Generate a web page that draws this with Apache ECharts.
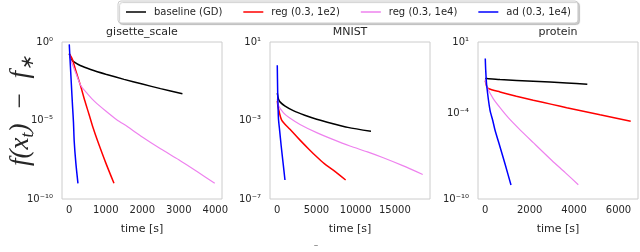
<!DOCTYPE html>
<html><head><meta charset="utf-8">
<script src="https://cdn.jsdelivr.net/npm/echarts@6/dist/echarts.min.js"></script>
<style>html,body{margin:0;padding:0;background:#fff}#c{width:640px;height:252px}</style>
</head><body><div id="c"></div>
<script>
// ---------- data ----------
const seriesNames = ['baseline (GD)', 'reg (0.3, 1e2)', 'reg (0.3, 1e4)', 'ad (0.3, 1e4)'];
const panelTitles = ['gisette_scale', 'MNIST', 'protein'];
const xTickLabels = [[0, 1000, 2000, 3000, 4000], [0, 5000, 10000, 15000], [0, 2000, 4000, 6000]];
const yTickExps = [[0, -5, -10], [1, -3, -7], [1, -4, -10]];
const yRanges = [[1e-10, 1], [1e-7, 10], [1e-10, 10]];
const xRanges = [[-199, 4184], [-928, 19478], [-328, 6878]];

// gisette_scale
const gisBaseT = [0, 50, 130, 300, 585, 1000, 1500, 2000, 2500, 3100];
const gisBaseF = [0.182, 0.0794, 0.0537, 0.0316, 0.0178, 0.0089, 0.00417, 0.00209, 0.00107, 0.000513];
const gisReg2T = [0, 85, 175, 312, 420, 540, 650, 770, 1000, 1225];
const gisReg2F = [0.178, 0.0794, 0.0158, 1.58e-3, 2.0e-4, 2.51e-5, 3.55e-6, 5.5e-7, 2.0e-8, 1.0e-9];
const gisReg4T = [0, 40, 175, 312, 500, 700, 1000, 1300, 1600, 2000, 2500, 3000, 3500, 3985];
const gisReg4F = [0.158, 0.0708, 0.0112, 1.78e-3, 5.0e-4, 1.58e-4, 3.98e-5, 1.12e-5, 3.98e-6, 8.9e-7, 1.58e-7, 3.16e-8, 5.6e-9, 1.0e-9];
const gisAdT = [0, 30, 60, 90, 115, 135, 180, 238];
const gisAdF = [0.708, 0.0316, 1.58e-3, 7.9e-5, 7.9e-6, 5.0e-7, 2.0e-8, 1.0e-9];

// MNIST
const mnBaseT = [0, 150, 345, 1000, 2040, 3500, 5025, 7000, 9000, 11950];
const mnBaseF = [0.0251, 0.0126, 8.9e-3, 5.37e-3, 3.16e-3, 1.86e-3, 1.17e-3, 7.1e-4, 4.47e-4, 2.82e-4];
const mnReg2T = [0, 100, 560, 1620, 2900, 4000, 5025, 6000, 7140, 8720];
const mnReg2F = [0.01, 5.0e-3, 1.05e-3, 3.55e-4, 1.0e-4, 3.55e-5, 1.41e-5, 6.3e-6, 2.95e-6, 9.3e-7];
const mnReg4T = [0, 100, 765, 1500, 2900, 5025, 7000, 9270, 11500, 13520, 16000, 18550];
const mnReg4F = [0.0126, 6.3e-3, 2.51e-3, 1.41e-3, 6.3e-4, 2.4e-4, 1.12e-4, 5.0e-5, 2.51e-5, 1.26e-5, 5.0e-6, 1.78e-6];
const mnAdT = [0, 50, 150, 300, 500, 750, 980];
const mnAdF = [0.646, 0.0316, 1.26e-3, 3.16e-4, 5.0e-5, 6.3e-6, 9.3e-7];

// protein
const prBaseT = [0, 60, 662, 2162, 3667, 4595];
const prBaseF = [0.0282, 0.0275, 0.0234, 0.0178, 0.0135, 0.011];
const prReg2T = [0, 60, 135, 662, 1400, 2162, 3000, 3667, 5167, 6550];
const prReg2F = [0.02, 7.9e-3, 5.5e-3, 3.16e-3, 1.58e-3, 8.3e-4, 4.27e-4, 2.51e-4, 7.9e-5, 2.82e-5];
const prReg4T = [0, 63, 350, 662, 1036, 1500, 2162, 3000, 3600, 4189];
const prReg4F = [0.0251, 7.9e-3, 1.12e-3, 2.51e-4, 5.0e-5, 8.9e-6, 8.9e-7, 5.0e-8, 7.1e-9, 1.0e-9];
const prAdT = [0, 20, 63, 212, 333, 437, 662, 900, 1158];
const prAdF = [0.692, 0.1, 9.3e-3, 1.66e-4, 3.31e-5, 6.8e-6, 4.57e-7, 2.51e-8, 9.5e-10];

// ---------- build ----------
const panels = [
  [[gisBaseT, gisBaseF], [gisReg2T, gisReg2F], [gisReg4T, gisReg4F], [gisAdT, gisAdF]],
  [[mnBaseT, mnBaseF], [mnReg2T, mnReg2F], [mnReg4T, mnReg4F], [mnAdT, mnAdF]],
  [[prBaseT, prBaseF], [prReg2T, prReg2F], [prReg4T, prReg4F], [prAdT, prAdF]]
];
const colors = ['#000000', '#ff0000', '#ee82ee', '#0000ff'];
const widths = [1.5, 1.5, 1.2, 1.5];
const gridLefts = [62, 270, 478];
const gridW = 160, gridTop = 42, gridH = 157;
const txt = '#262626';
const font = 'DejaVu Sans';
const sup = {'0':'⁰','1':'¹','2':'²','3':'³','4':'⁴','5':'⁵','6':'⁶','7':'⁷','8':'⁸','9':'⁹','-':'⁻'};
function supStr(n){ return String(n).split('').map(c => sup[c]).join(''); }

const grid = [], xAxis = [], yAxis = [], series = [], title = [];
panels.forEach((p, i) => {
  grid.push({left: gridLefts[i], top: gridTop, width: gridW, height: gridH, show: true,
    borderColor: '#cccccc', borderWidth: 1, backgroundColor: '#fff', containLabel: false});
  title.push({text: panelTitles[i], left: gridLefts[i] + gridW / 2, top: 27, textAlign: 'center',
    textStyle: {fontSize: 11, fontWeight: 'normal', color: txt, fontFamily: font}, padding: 0});
  xAxis.push({type: 'value', gridIndex: i, min: xRanges[i][0], max: xRanges[i][1],
    name: 'time [s]', nameLocation: 'middle', nameGap: 25,
    nameTextStyle: {fontSize: 11, color: txt, fontFamily: font},
    axisLine: {show: false}, axisTick: {show: false}, splitLine: {show: false},
    axisLabel: {customValues: xTickLabels[i], fontSize: 10, color: txt, fontFamily: font, margin: 6,
      formatter: v => String(Math.round(v))}
  });
  const exps = yTickExps[i];
  yAxis.push({type: 'log', logBase: 10, gridIndex: i, min: yRanges[i][0], max: yRanges[i][1],
    interval: 1,
    axisLine: {show: false}, axisTick: {show: false}, splitLine: {show: false}, minorSplitLine: {show: false},
    axisLabel: {fontSize: 10, color: txt, fontFamily: font, margin: 9, showMinLabel: true, showMaxLabel: true,
      formatter: v => { const e = Math.round(Math.log10(v)); return exps.indexOf(e) >= 0 ? '10' + supStr(e) : ''; }}
  });
  p.forEach((s, k) => {
    series.push({type: 'line', name: seriesNames[k], xAxisIndex: i, yAxisIndex: i,
      data: s[0].map((t, j) => [t, s[1][j]]), showSymbol: false, symbol: 'none',
      smooth: 0.25,
      lineStyle: {color: colors[k], width: widths[k]}, itemStyle: {color: colors[k]}, z: 2 + k});
  });
});

const chart = echarts.init(document.getElementById('c'), null, {renderer: 'canvas'});
chart.setOption({
  animation: false,
  backgroundColor: '#ffffff',
  title: title,
  legend: {data: seriesNames, left: 118, top: 1, icon: 'rect', itemWidth: 20, itemHeight: 1.5, itemGap: 21,
    padding: [6, 7, 6, 8], borderColor: '#cccccc', borderWidth: 1, borderRadius: 3, backgroundColor: '#ffffff',
    shadowColor: 'rgba(0,0,0,0.2)', shadowOffsetX: 1.5, shadowOffsetY: 1.5, shadowBlur: 1,
    textStyle: {fontSize: 10, color: txt, fontFamily: font, padding: [0, 0, 0, 3]}},
  grid: grid, xAxis: xAxis, yAxis: yAxis, series: series,
  graphic: [
    {type: 'text', x: 21, y: 111, rotation: Math.PI / 2,
      style: {text: '{m|f(x}{s|t}{m|)\u2002−\u2002f}{s|∗}', align: 'center', verticalAlign: 'middle',
        rich: {m: {fontSize: 27, fontStyle: 'italic', fontFamily: 'Liberation Serif', fill: '#262626', lineHeight: 32, verticalAlign: 'middle'},
               s: {fontSize: 18, fontStyle: 'italic', fontFamily: 'Liberation Serif', fill: '#262626', lineHeight: 32, verticalAlign: 'bottom'}}}},
    {type: 'text', x: 316, y: 251, style: {text: '‾', fontSize: 9, fill: '#444', align: 'center', verticalAlign: 'middle'}}
  ]
});
</script></body></html>
